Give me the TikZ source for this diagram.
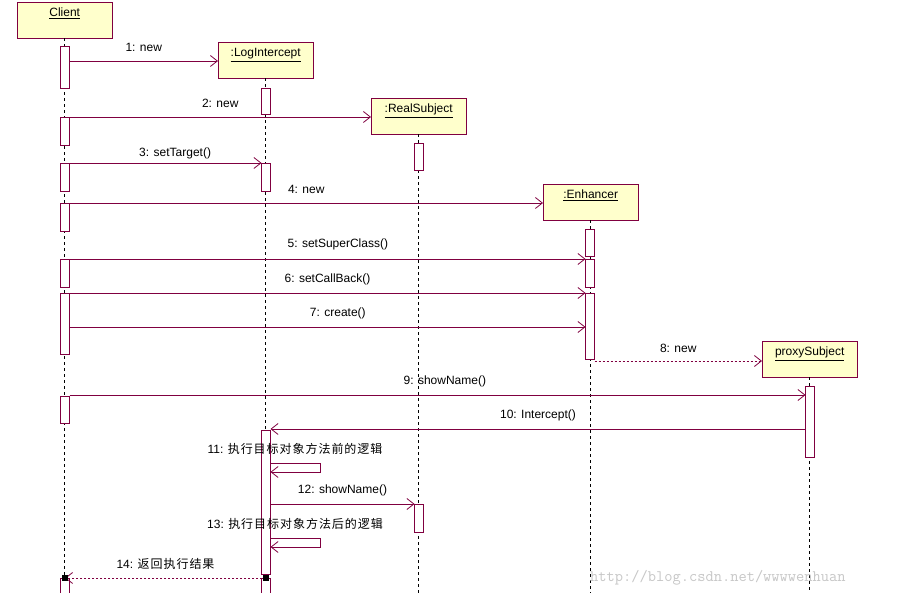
\documentclass[tikz,border=0pt]{standalone}
\usepackage{fontspec}
\setmainfont{Liberation Sans}
\newfontfamily\cjk{Noto Sans CJK SC}
\usetikzlibrary{arrows.meta,calc}
\definecolor{mar}{HTML}{800040}
\definecolor{boxy}{HTML}{FFFFCC}
\begin{document}
\begin{tikzpicture}[x=1pt,y=-1pt,
  obj/.style={draw=mar,fill=boxy,minimum width=95pt,minimum height=36pt,anchor=north west,inner sep=0pt},
  oname/.style={font=\fontsize{12}{14}\selectfont,inner sep=0pt,anchor=base},
  act/.style={draw=mar,fill=white,line width=0.8pt},
  life/.style={dashed,dash pattern=on 3pt off 3pt,line width=0.7pt},
  msg/.style={draw=mar,line width=0.8pt,-{Straight Barb[length=7pt,width=11pt]}},
  ret/.style={msg,dash pattern=on 2pt off 2pt},
  lbl/.style={font=\fontsize{12}{14}\selectfont,inner sep=0pt}]
\useasboundingbox (0,0) rectangle (914,593);
\fill[white] (0,0) rectangle (914,593);
% objects
\node[obj] (client) at (17,2) {};
\node[obj] (log) at (218,42) {};
\node[obj] (real) at (371,98) {};
\node[obj] (enh) at (543,184) {};
\node[obj] (proxy) at (762,341) {};
\node[oname] at ($(client.north)+(0,15)$) {\underline{Client}};
\node[oname] at ($(log.north)+(0,15)$) {\underline{:LogIntercept}};
\node[oname] at ($(real.north)+(0,15)$) {\underline{:RealSubject}};
\node[oname] at ($(enh.north)+(0,15)$) {\underline{:Enhancer}};
\node[oname] at ($(proxy.north)+(0,15)$) {\underline{proxySubject}};
\foreach \n in {client,log,real,enh,proxy}{\coordinate (\n-end) at (\n.south |- 0,593);}
% lifelines
\draw[life] (client.south) -- (client-end);
\draw[life] (log.south) -- (log-end);
\draw[life] (real.south) -- (real-end);
\draw[life] (enh.south) -- (enh-end);
\draw[life] (proxy.south) -- (proxy-end);
% activations
\foreach \a/\b in {46/88,117/145,163/191,203/231,259/287,293/354,396/423,578/598}
  \draw[act] (60.5,\a) rectangle (69.5,\b);
\foreach \a/\b in {88/114,163/191,430/574,578/598}
  \draw[act] (261.5,\a) rectangle (270.5,\b);
\foreach \a/\b in {143/170,504/532}
  \draw[act] (414.5,\a) rectangle (423.5,\b);
\foreach \a/\b in {229/256,259/287,293/359}
  \draw[act] (585.5,\a) rectangle (594.5,\b);
\draw[act] (805.5,386) rectangle (814.5,457);
% messages
\coordinate (c1) at (69.5,61);
\draw[msg] (c1) -- (log.west |- c1) node[lbl,pos=0.5,above=9pt] {1: new};
\coordinate (c2) at (69.5,117);
\draw[msg] (c2) -- (real.west |- c2) node[lbl,pos=0.5,above=9pt] {2: new};
\coordinate (c3) at (69.5,163); \coordinate (l3) at (261.5,163);
\draw[msg] (c3) -- (l3) node[lbl,pos=0.55,above=4pt] {3: setTarget()};
\coordinate (c4) at (69.5,203);
\draw[msg] (c4) -- (enh.west |- c4) node[lbl,pos=0.5,above=9pt] {4: new};
\coordinate (c5) at (69.5,259); \coordinate (e5) at (585.5,259);
\draw[msg] (c5) -- (e5) node[lbl,pos=0.52,above=9pt] {5: setSuperClass()};
\coordinate (c6) at (69.5,293); \coordinate (e6) at (585.5,293);
\draw[msg] (c6) -- (e6) node[lbl,pos=0.5,above=8pt] {6: setCallBack()};
\coordinate (c7) at (69.5,327); \coordinate (e7) at (585.5,327);
\draw[msg] (c7) -- (e7) node[lbl,pos=0.52,above=8pt] {7: create()};
\coordinate (e8) at (594.5,361);
\draw[ret] (e8) -- (proxy.west |- e8) node[lbl,pos=0.5,above=8pt] {8: new};
\coordinate (c9) at (69.5,395); \coordinate (p9) at (805.5,395);
\draw[msg] (c9) -- (p9) node[lbl,pos=0.51,above=8pt] {9: showName()};
\coordinate (p10) at (805.5,429); \coordinate (l10) at (270.5,429);
\draw[msg] (p10) -- (l10) node[lbl,pos=0.5,above=8pt] {10: Intercept()};
\coordinate (s11a) at (270.5,463); \coordinate (s11b) at (320,463); \coordinate (s11c) at (320,472); \coordinate (s11d) at (270.5,472);
\node[lbl,anchor=base] (t11) at (295,454) {11: {\cjk\addfontfeature{LetterSpace=8} 执行目标对象方法前的逻辑}};
\draw[msg] (s11a) -- (s11b) -- (s11c) -- (s11d);
\coordinate (l12) at (270.5,504); \coordinate (r12) at (414.5,504);
\draw[msg] (l12) -- (r12) node[lbl,pos=0.5,above=8pt] {12: showName()};
\node[lbl,anchor=base] (t13) at (295,529) {13: {\cjk\addfontfeature{LetterSpace=8} 执行目标对象方法后的逻辑}};
\coordinate (s13a) at (270.5,538); \coordinate (s13b) at (320,538); \coordinate (s13c) at (320,547); \coordinate (s13d) at (270.5,547);
\draw[msg] (s13a) -- (s13b) -- (s13c) -- (s13d);
\coordinate (l14) at (266,578); \coordinate (c14) at (65,578);
\draw[ret] (l14) -- (c14) node[lbl,pos=0.5,above=8pt] {14: {\cjk\addfontfeature{LetterSpace=8} 返回执行结果}};
\fill (l14) ++(-3,-3) rectangle ++(6,6);
\fill (c14) ++(-3,-3) rectangle ++(6,6);
\node[lbl,anchor=base west,text=black!22,font=\ttfamily\fontsize{16}{16}\selectfont] (wm) at (590,582) {http://blog.csdn.net/wwwwenhuan};
\end{tikzpicture}
\end{document}
